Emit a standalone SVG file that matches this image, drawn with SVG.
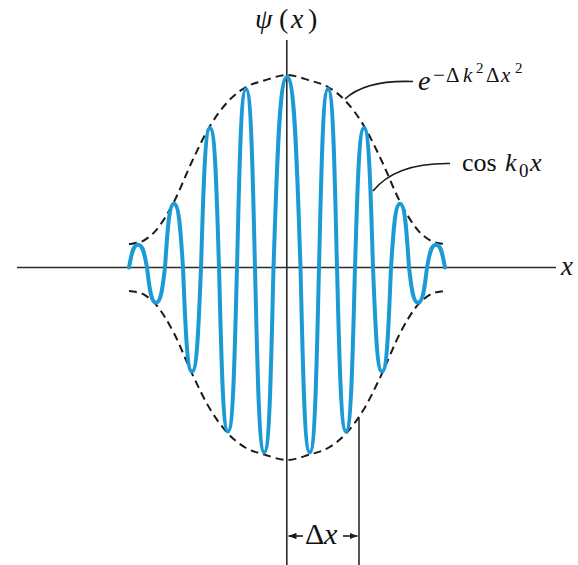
<svg xmlns="http://www.w3.org/2000/svg" xmlns:xlink="http://www.w3.org/1999/xlink" width="578" height="565" viewBox="0 0 578 565">
<defs>
<style>
.axis{stroke:#2b2b2b;stroke-width:1.6;fill:none}
.wave{stroke:#1c9ad6;stroke-width:4;fill:none;stroke-linejoin:round;stroke-linecap:round}
.env{stroke:#1a1a1a;stroke-width:2;fill:none;stroke-dasharray:8 5}
.lead{stroke:#1a1a1a;stroke-width:1.6;fill:none}
text{font-family:"Liberation Serif","Times New Roman","DejaVu Serif",serif;fill:#111}
.i{font-style:italic}
</style>
<marker id="ah" viewBox="0 0 10 8" refX="10" refY="4" markerWidth="8" markerHeight="6.4" orient="auto-start-reverse" markerUnits="userSpaceOnUse">
<path d="M0,0 L10,4 L0,8 z" fill="#1a1a1a"/>
</marker>
<path id="wr" d="M287,77 C295.1,77 297.125,172.25 300.5,267.5 C302.81,360 304.2,452.5 309.75,452.5 C315.3,452.5 316.69,360 319,267.5 C321.25,178.25 322.6,89 328,89 C333.4,89 334.75,178.25 337,267.5 C339.25,349.5 340.6,431.5 346,431.5 C351.4,431.5 352.75,349.5 355,267.5 C357.25,197.75 358.6,128 364,128 C369.4,128 370.75,197.75 373,267.5 C375.25,319.5 376.6,371.5 382,371.5 C387.4,371.5 388.75,319.5 391,267.5 C393.25,235.6 394.6,203.7 400,203.7 C405.4,203.7 406.75,235.6 409,267.5 C411.25,285.1 412.6,302.7 418,302.7 C423.4,302.7 424.75,285.1 427,267.5 C429.25,256.1 430.6,244.7 436,244.7 C441.4,244.7 442.75,256.1 445,267.5"/>
<path id="et" d="M129,244 C132,244 133.5,243.2 138,242.7 C142.5,242.2 150,237.13 156,230.3 C162,223.47 168,213.17 174,201.7 C180,190.23 186,174.12 192,161.5 C198,148.88 204,136 210,126 C216,116 222,108 228,101.5 C234,95 239.96,90.5 246,87 C252.04,83.5 257.42,82.5 264.25,80.5 C271.08,78.5 279.42,75 287,75 C294.58,75 302.92,78.5 309.75,80.5 C316.58,82.5 321.96,83.5 328,87 C334.04,90.5 340,95 346,101.5 C352,108 358,116 364,126 C370,136 376,148.88 382,161.5 C388,174.12 394,190.23 400,201.7 C406,213.17 412,223.47 418,230.3 C424,237.13 431.5,242.2 436,242.7 C440.5,243.2 442,244 445,244"/>
</defs>

<g id="axes">
<line class="axis" x1="17" y1="267.5" x2="556" y2="267.5"/>
<line class="axis" x1="286.8" y1="40" x2="286.8" y2="565"/>
<line class="axis" x1="359" y1="418" x2="359" y2="565"/>
</g>

<g id="envelope">
<use xlink:href="#et" href="#et" class="env"/>
<use xlink:href="#et" href="#et" class="env" transform="matrix(1 0 0 -1 0 535)"/>
</g>

<g id="wave">
<use xlink:href="#wr" href="#wr" class="wave"/>
<use xlink:href="#wr" href="#wr" class="wave" transform="matrix(-1 0 0 1 574 0)"/>
</g>

<g id="connectors">
<path class="lead" d="M413,81.5 C385,80.5 360,85 345,99"/>
<path class="lead" d="M450,163.5 C420,163 390,170 373,191"/>
<line class="lead" x1="303" y1="536" x2="288.5" y2="536" marker-end="url(#ah)"/>
<line class="lead" x1="343" y1="536" x2="357.5" y2="536" marker-end="url(#ah)"/>
</g>

<g id="label-psi">
<text y="28" font-size="28"><tspan class="i" x="255">ψ</tspan><tspan x="279">(</tspan><tspan class="i" x="291">x</tspan><tspan x="308">)</tspan></text>
</g>

<g id="label-envelope">
<text y="90" font-size="28"><tspan class="i" x="418">e</tspan><tspan x="433" y="81.5" font-size="21">−</tspan><tspan x="446" y="81.5" font-size="21">Δ</tspan><tspan class="i" x="463" y="81.5" font-size="21">k</tspan><tspan x="476" y="73" font-size="15">2</tspan><tspan x="486" y="81.5" font-size="21">Δ</tspan><tspan class="i" x="501" y="81.5" font-size="21">x</tspan><tspan x="515" y="73" font-size="15">2</tspan></text>
</g>

<g id="label-cos">
<text y="171" font-size="26"><tspan x="462">cos</tspan><tspan class="i" x="505">k</tspan><tspan x="519" y="177" font-size="19">0</tspan><tspan class="i" x="530" y="171">x</tspan></text>
</g>

<g id="label-xaxis">
<text class="i" x="561" y="275" font-size="27">x</text>
</g>

<g id="label-dx">
<text y="544" font-size="30"><tspan x="305">Δ</tspan><tspan class="i" x="324">x</tspan></text>
</g>
</svg>
